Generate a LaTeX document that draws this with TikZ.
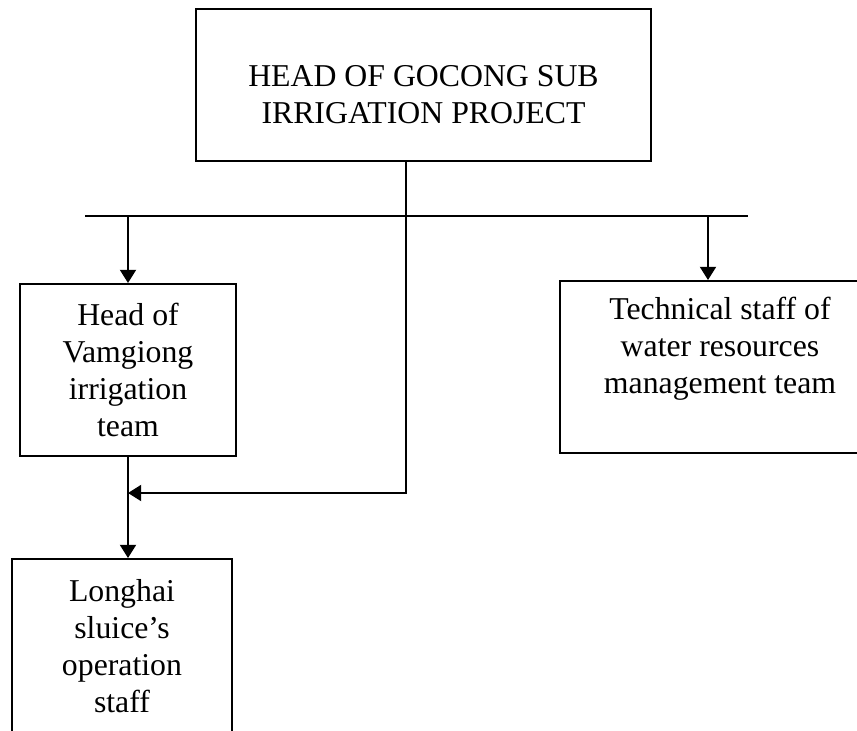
\documentclass[tikz,border=0pt]{standalone}
\usepackage{fontspec}
\setmainfont{Liberation Serif}
\usetikzlibrary{arrows.meta}

\tikzset{
  orgbox/.style={draw, line width=0.05cm, align=center, inner xsep=0pt,
    font=\fontsize{22.6}{26.3}\selectfont},
  arr/.style={-{Triangle[length=0.33cm,width=0.4cm]}, line width=0.05cm},
  wire/.style={line width=0.05cm}
}

\begin{document}
\begin{tikzpicture}[x=0.025cm,y=-0.025cm]
    \useasboundingbox (0,0) rectangle (857,731);
    \clip (0,0) rectangle (857,731);

    % Head of project
    \node[orgbox,
      minimum width=11.375cm,
      inner ysep=0.95cm,
      text height=1.9cm,
      text depth=0cm,
      anchor=north] (head) at (423.5,8) {HEAD OF GOCONG SUB\\IRRIGATION PROJECT};

    % Vamgiong team
    \node[orgbox,
      minimum width=5.4cm,
      minimum height=4.3cm] (vamgiong) at (128,370) {Head of\\Vamgiong\\irrigation\\team};

    % Water resources team
    \node[orgbox,
      minimum width=8cm,
      inner ysep=0.4cm,
      text depth=1.1cm,
      anchor=north] (tech) at (720,280) {Technical staff of\\water resources\\management team};

    % Longhai sluice
    \node[orgbox,
      minimum width=5.5cm,
      inner ysep=0.5cm,
      text depth=1.5cm,
      anchor=north] (longhai) at (122,558) {Longhai\\sluice's\\operation\\staff};

    % Bus and drops
    \coordinate (busL) at (85,216);
    \coordinate (busR) at (748,216);
    \coordinate (hub) at (406,216);
    \coordinate (techdrop) at (708,216);
    \coordinate (join) at (128,493);

    % Draw Arrows
    \draw[wire] (busL) -- (busR);
    \draw[wire] (hub |- head.south) -- (hub);
    \draw[arr] (vamgiong.north |- busL) -- (vamgiong.north);
    \draw[arr] (techdrop) -- (techdrop |- tech.north);
    \draw[arr] (hub) |- (join);
    \draw[arr] (vamgiong.south) -- (vamgiong.south |- longhai.north);

  \end{tikzpicture}
\end{document}
